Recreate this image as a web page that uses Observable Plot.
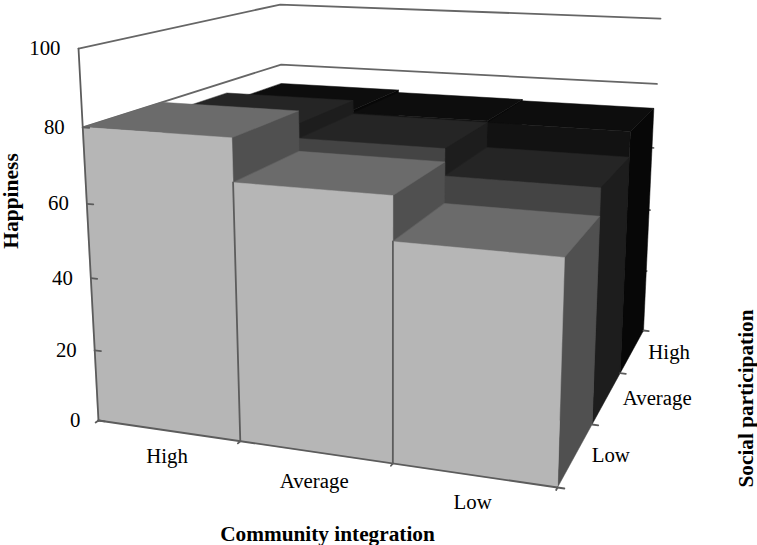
<!DOCTYPE html>
<html>
<head>
<meta charset="utf-8">
<style>html,body{margin:0;padding:0;background:#fff}</style>
<script src="https://cdn.jsdelivr.net/npm/d3@7"></script>
<script src="https://cdn.jsdelivr.net/npm/@observablehq/plot@0.6"></script>
</head>
<body>
<div id="chart"></div>
<script>
// Categories and ticks
const community = ["High", "Average", "Low"];
const social = ["Low", "Average", "High"];
const happinessTicks = [0, 20, 40, 60, 80, 100];

// Happiness per community level, one array for each social participation level
const socialLow = [80, 68.8, 57.5];
const socialAverage = [76.5, 72.4, 65];
const socialHigh = [73.6, 72.8, 72.4];
const series = [socialLow, socialAverage, socialHigh];

// Face shades per social row: front, top, side
const frontShades = ["#b6b6b6", "#444444", "#121212"];
const topShades = ["#6b6b6b", "#252525", "#0d0d0d"];
const sideShades = ["#505050", "#1d1d1d", "#070707"];

// Perspective camera: maps (community slot 0-3, social slot 0-3, happiness 0-100) to the page
const cam = {
  o: [98, 420], a: [399.96, 15.38], b: [273, -39.7], c: [-25.4, -375.3],
  g: -0.106, i: 0.305, j: -0.0694
};
function project(c, s, h) {
  const u = c / 3, v = s / 3, t = h / 100;
  const w = 1 + cam.g * u + cam.i * v + cam.j * t;
  return [
    (cam.o[0] + cam.a[0] * u + cam.b[0] * v + cam.c[0] * t) / w,
    (cam.o[1] + cam.a[1] * u + cam.b[1] * v + cam.c[1] * t) / w
  ];
}
const pt = (c, s, h, extra) => {
  const [px, py] = project(c, s, h);
  return {px, py, ...extra};
};
// The columns draw in very slightly towards the left as they rise
const lean = (c, h) => c * (1 - 0.00006 * h);

// Bar faces, painted from back to front
const faces = [];
let faceId = 0;
function addFace(corners, fill) {
  const id = faceId++;
  for (const [c, s, h] of corners) faces.push(pt(lean(c, h), s, h, {id, fill}));
}
for (let s = social.length - 1; s >= 0; s--) {
  for (let c = 0; c < community.length; c++) {
    const h = series[s][c];
    addFace([[c + 1, s, 0], [c + 1, s + 1, 0], [c + 1, s + 1, h], [c + 1, s, h]], sideShades[s]);
    addFace([[c, s, h], [c + 1, s, h], [c + 1, s + 1, h], [c, s + 1, h]], topShades[s]);
    addFace([[c, s, 0], [c + 1, s, 0], [c + 1, s, h], [c, s, h]], frontShades[s]);
  }
}

// Wall gridlines, behind the bars
const grid = happinessTicks.flatMap(h => [
  pt(0, 0, h, {h}), pt(0, 3, h, {h}), pt(3, 3, h, {h})
]);

// Axis lines and ticks, over the bars
const rules = [];
let ruleId = 0;
function addRule(a, b) {
  const id = ruleId++;
  rules.push(pt(...a, {id}), pt(...b, {id}));
}
addRule([0, 0, 100], [0, 0, 0]);
addRule([0, 0, 0], [0, -0.035, 0]);
addRule([0, 0, 0], [3, 0, 0]);
community.forEach((_, i) => {
  addRule([i + 1, 0, 0], [i + 1, -0.035, 0]);
  if (i < 2) addRule([i + 1, 0, 0], [lean(i + 1, series[0][i + 1]), 0, series[0][i + 1]]);
});
happinessTicks.slice(0, 5).forEach(h => addRule([0, 0, h], [0.045, 0, h]));
social.forEach((_, i) => addRule([3, i + 1, 0], [3.04, i + 1, 0]));
addRule([3, 0, 0], [3.04, 0, 0]);

const yLabels = happinessTicks.map(h => pt(0, 0, h, {text: String(h)}));
const communityDy = [26, 29, 27];
const communityLabels = community.map((text, i) => pt(i + 0.5, 0, 0, {text, dy: communityDy[i]}));
const socialLabels = social.map((text, i) => pt(3, i + 0.5, 0, {text}));

const serif = "'Liberation Serif','Times New Roman',serif";
const tickSize = 20.8, titleSize = 21.3;

const chart = Plot.plot({
  width: 757, height: 545,
  marginTop: 0, marginRight: 0, marginBottom: 0, marginLeft: 0,
  x: {domain: [0, 757], range: [0, 757], axis: null},
  y: {domain: [0, 545], range: [0, 545], axis: null},
  style: {fontFamily: serif, background: "#fff", color: "#000"},
  marks: [
    Plot.line(grid, {x: "px", y: "py", z: "h", stroke: "#666", strokeWidth: 1.8, curve: "linear"}),
    Plot.line(faces, {
      x: "px", y: "py", z: "id",
      fill: d => d.fill, stroke: d => d.fill, strokeWidth: 0.5, curve: "linear-closed"
    }),
    Plot.line(rules, {x: "px", y: "py", z: "id", stroke: "#5c5c5c", strokeWidth: 1.8, curve: "linear"}),
    Plot.text(yLabels, {x: "px", y: "py", text: "text", textAnchor: "end", dx: -18, fontSize: tickSize, fill: "#000"}),
    ...communityLabels.map(d => Plot.text([d], {x: "px", y: "py", text: "text", dx: -1, dy: d.dy, fontSize: tickSize, fill: "#000"})),
    Plot.text(socialLabels, {x: "px", y: "py", text: "text", textAnchor: "start", dx: 16, dy: 1, fontSize: tickSize, fill: "#000"}),
    Plot.text(["Happiness"], {x: () => 11, y: () => 200.5, text: d => d, rotate: -90, fontSize: 21.5, fontWeight: "bold", fill: "#000"}),
    Plot.text(["Social participation"], {x: () => 746, y: () => 398, text: d => d, rotate: -90, fontSize: titleSize, fontWeight: "bold", fill: "#000"}),
    Plot.text(["Community integration"], {x: () => 327, y: () => 534, text: d => d, fontSize: titleSize, fontWeight: "bold", fill: "#000"})
  ]
});
document.getElementById("chart").appendChild(chart);
</script>
</body>
</html>
